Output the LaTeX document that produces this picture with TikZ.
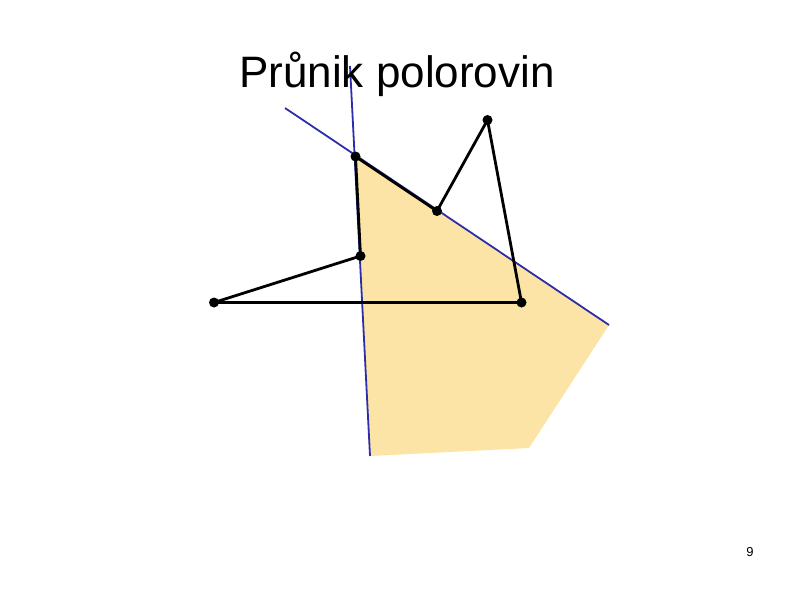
\documentclass[tikz,border=0pt]{standalone}
\usepackage{fontspec}
\setmainfont{Liberation Sans}
\definecolor{fillyellow}{RGB}{252,228,166}
\definecolor{lineblue}{RGB}{45,45,170}
\begin{document}
\begin{tikzpicture}[x=1pt,y=-1pt,
  halfline/.style={draw=lineblue,line width=1.8pt},
  polyedge/.style={draw=black,line width=2.8pt,line cap=round,line join=round},
  vertexdot/.style={circle,fill=black,inner sep=0pt,minimum size=10pt},
  titletext/.style={font=\fontsize{44}{50}\selectfont,anchor=base,inner sep=0pt},
  pagenum/.style={font=\fontsize{13}{15}\selectfont,anchor=base,inner sep=0pt}]
\useasboundingbox (0,0) rectangle (794,595);
% intersection region
\fill[fillyellow] (355,156) -- (609,325) -- (529,448) -- (370,456) -- cycle;
% half-plane boundaries
\coordinate (l1a) at (350,66);
\coordinate (l1b) at (370,456);
\coordinate (l2a) at (285,108);
\coordinate (l2b) at (609,325);
\draw[halfline] (l1a) -- (l1b);
\draw[halfline] (l2a) -- (l2b);
% title
\node[titletext] (title) at (397,87) {Průnik polorovin};
% polygon
\node[vertexdot] (A) at (355.5,156.5) {};
\node[vertexdot] (B) at (437,211) {};
\node[vertexdot] (C) at (487.5,120) {};
\node[vertexdot] (D) at (521.5,302.5) {};
\node[vertexdot] (E) at (214,302.5) {};
\node[vertexdot] (F) at (360.5,256) {};
\draw[polyedge] (A.center) -- (B.center) -- (C.center) -- (D.center) -- (E.center) -- (F.center) -- cycle;
\node[pagenum] (pg) at (750,556) {9};
\end{tikzpicture}
\end{document}
